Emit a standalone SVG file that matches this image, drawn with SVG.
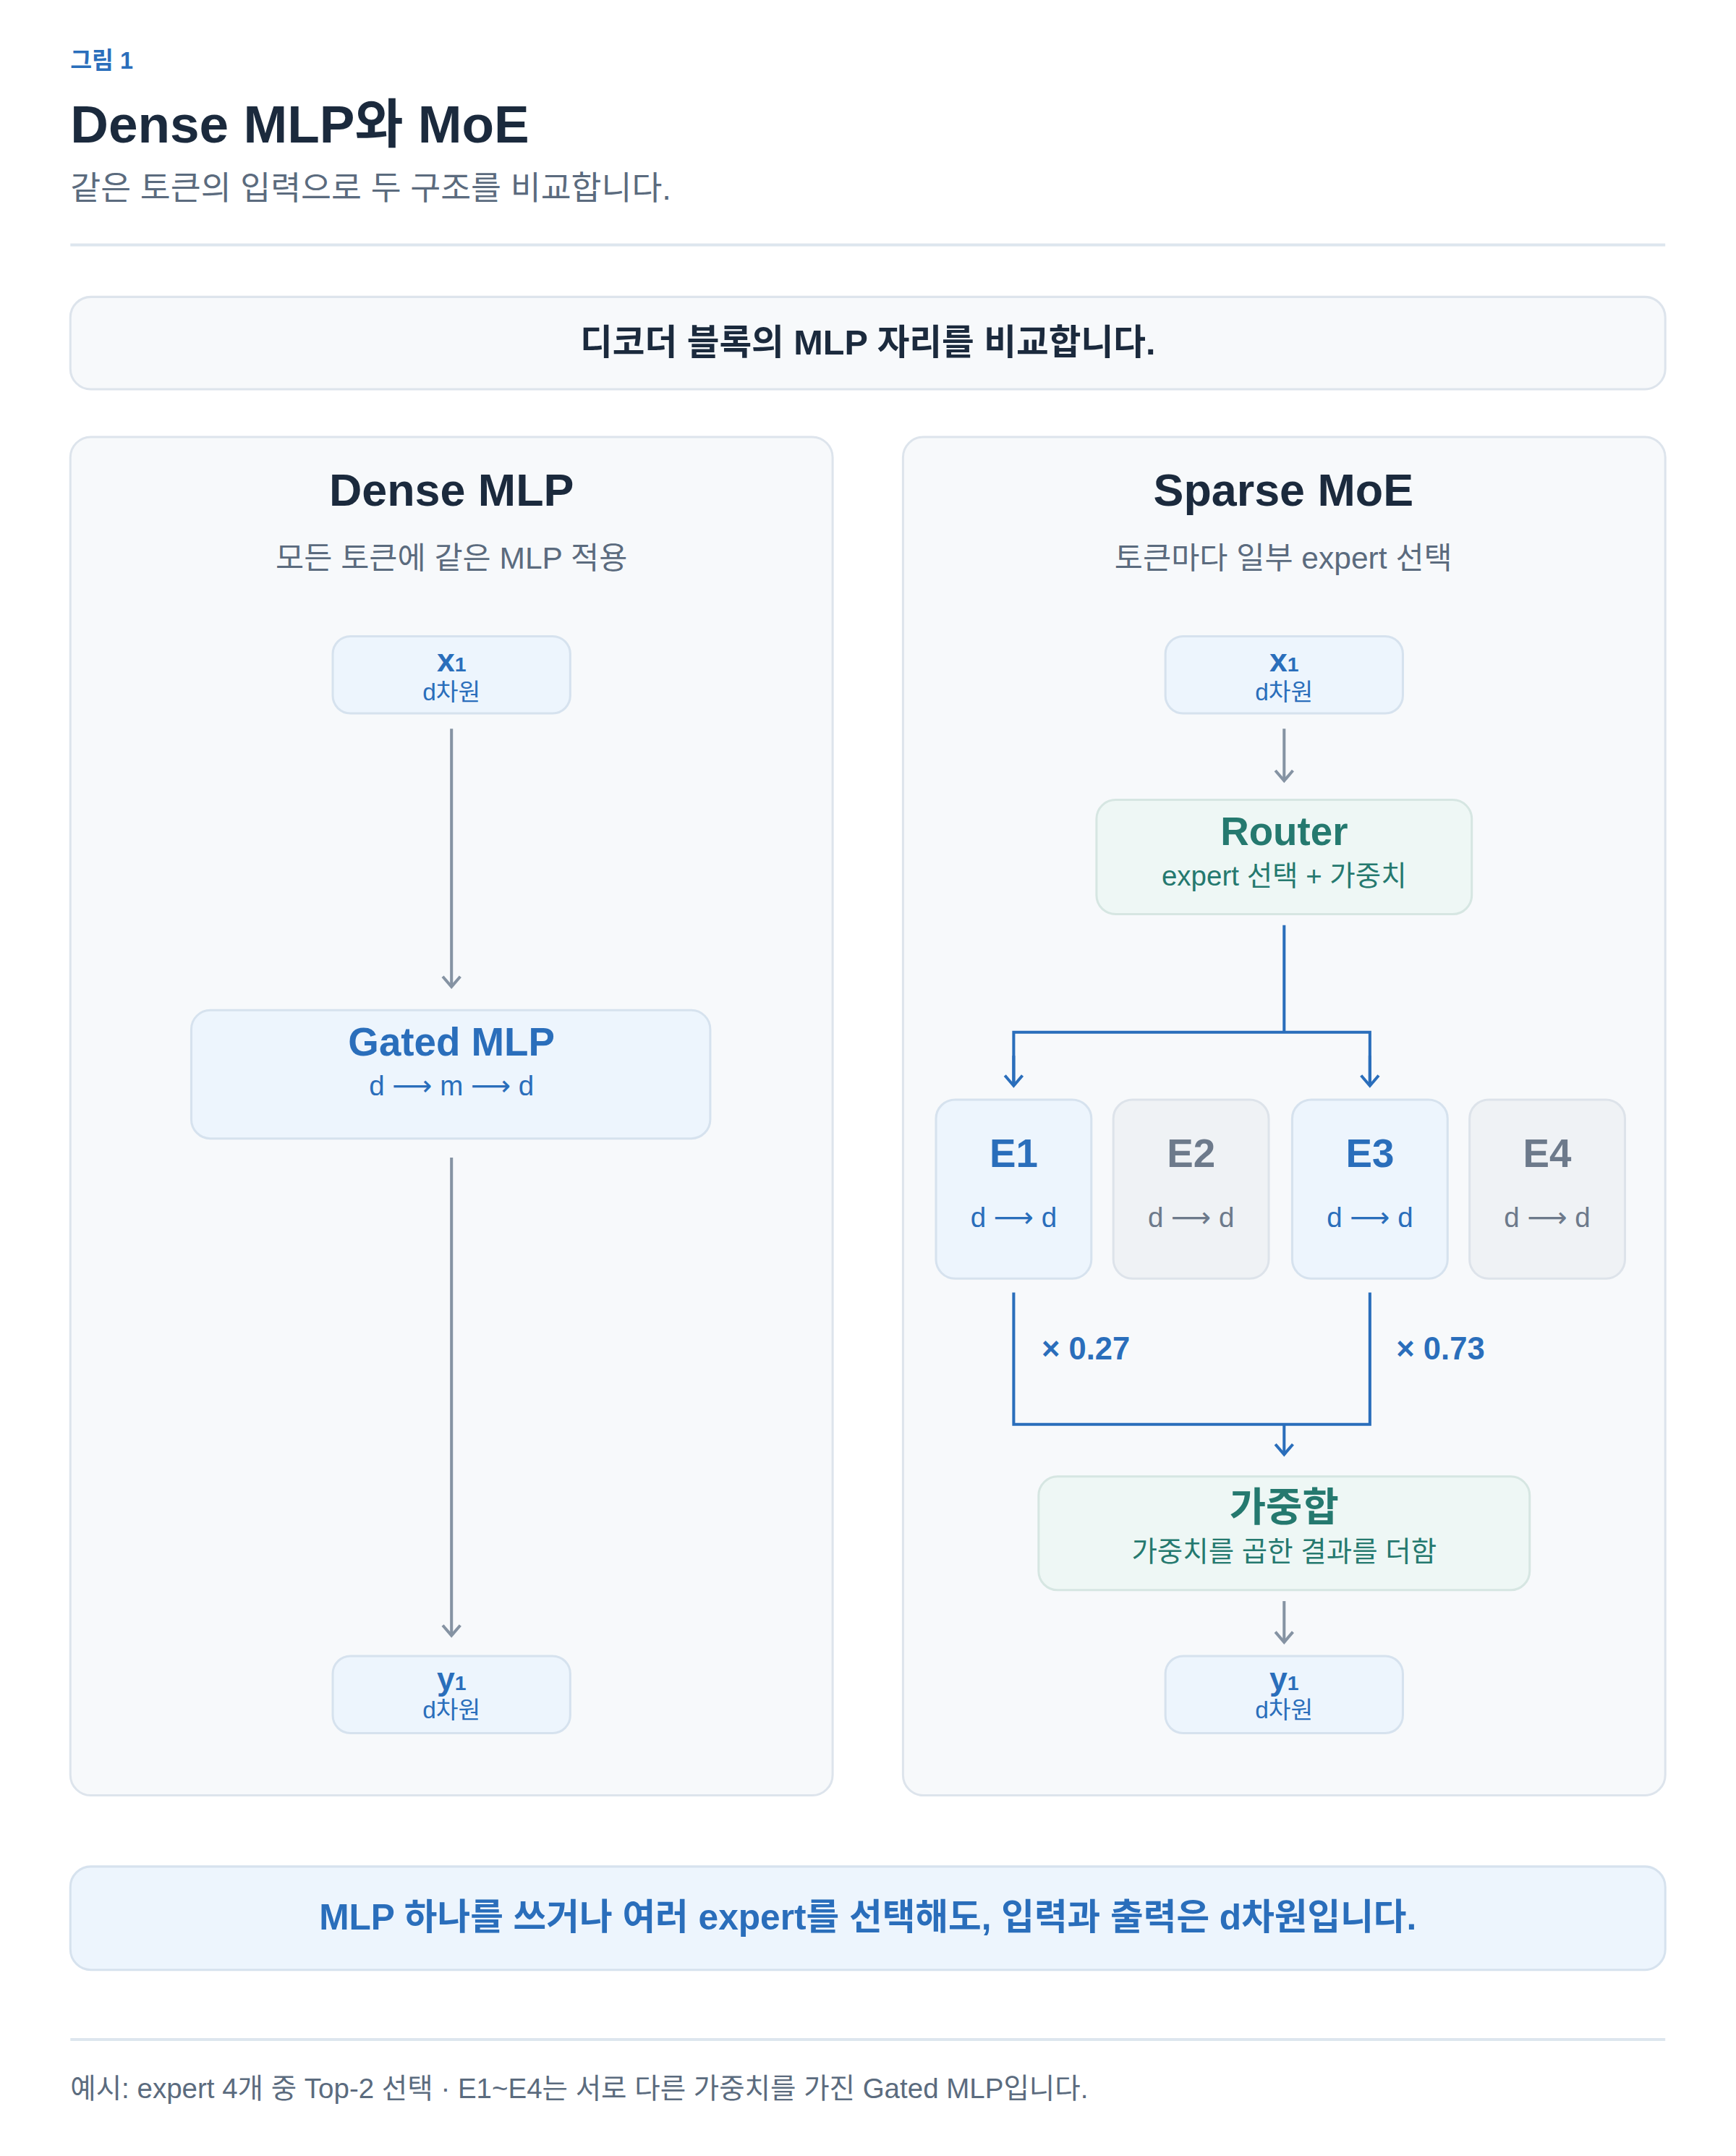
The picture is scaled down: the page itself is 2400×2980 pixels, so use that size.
<svg xmlns="http://www.w3.org/2000/svg" width="2400" height="2980" viewBox="0 0 2400 2980">
<defs>
<style>
text{font-family:"Liberation Sans","Noto Sans CJK KR",sans-serif;text-anchor:middle}
.b{font-weight:bold}
.ar{font-family:"DejaVu Sans",sans-serif;font-weight:normal}
.panel{fill:#f7f9fb;stroke:#dde4ec;stroke-width:3}
.bl{fill:#edf5fd;stroke:#d6e2ee;stroke-width:3}
.tl{fill:#eef7f5;stroke:#d6e6e2;stroke-width:3}
.gr{fill:#eff2f5;stroke:#dde3ea;stroke-width:3}
.cb{fill:#2a6ebb}.ct{fill:#25796f}.cd{fill:#1b2a3d}.cg{fill:#5b6b7e}.cx{fill:#6d7a8b}
.ag{stroke:#8593a3;stroke-width:4;fill:none}
.ab{stroke:#2a6ebb;stroke-width:4;fill:none}
</style>
<marker id="mg" markerWidth="30" markerHeight="30" refX="26" refY="15" orient="auto" markerUnits="userSpaceOnUse" viewBox="0 0 30 30"><path d="M12 3 L26 15 L12 27" fill="none" stroke="#8593a3" stroke-width="4"/></marker>
<marker id="mb" markerWidth="30" markerHeight="30" refX="26" refY="15" orient="auto" markerUnits="userSpaceOnUse" viewBox="0 0 30 30"><path d="M12 3 L26 15 L12 27" fill="none" stroke="#2a6ebb" stroke-width="4"/></marker>
</defs>
<rect width="2400" height="2980" fill="#ffffff"/>
<g transform="scale(1.0133)">
<g id="header">
<text x="96" y="94" class="b cb" font-size="32" style="text-anchor:start">그림 1</text>
<text x="96" y="194" class="b cd" font-size="72" style="text-anchor:start">Dense MLP와 MoE</text>
<text x="96" y="272" class="cg" font-size="45" style="text-anchor:start">같은 토큰의 입력으로 두 구조를 비교합니다.</text>
<line x1="96" y1="334" x2="2272" y2="334" stroke="#dde6ee" stroke-width="4"/>
</g>
<g id="banner"><rect x="96" y="405" width="2176" height="126" rx="28" class="panel"/><text x="1184" y="484" class="b cd" font-size="48">디코더 블록의 MLP 자리를 비교합니다.</text></g>
<g id="panel-dense"><rect x="96" y="596" width="1040" height="1853" rx="28" class="panel"/>
<text x="616" y="690" class="b cd" font-size="62">Dense MLP</text>
<text x="616" y="776" class="cg" font-size="42">모든 토큰에 같은 MLP 적용</text></g>
<g id="panel-moe"><rect x="1232" y="596" width="1040" height="1853" rx="28" class="panel"/>
<text x="1751" y="690" class="b cd" font-size="62">Sparse MoE</text>
<text x="1751" y="776" class="cg" font-size="42">토큰마다 일부 expert 선택</text></g>
<g id="x1-dense"><rect x="454" y="868" width="324" height="105" rx="24" class="bl"/><text x="616" y="916" class="b cb" font-size="44">x<tspan font-size="28">1</tspan></text><text x="616" y="955" class="cb" font-size="33">d차원</text></g>
<g id="gated-mlp"><rect x="261" y="1378" width="708" height="175" rx="26" class="bl"/><text x="616" y="1440" class="b cb" font-size="54">Gated MLP</text><text x="616" y="1494" class="cb" font-size="38">d <tspan class="ar">⟶</tspan> m <tspan class="ar">⟶</tspan> d</text></g>
<g id="y1-dense"><rect x="454" y="2259" width="324" height="105" rx="24" class="bl"/><text x="616" y="2305" class="b cb" font-size="44">y<tspan font-size="28">1</tspan></text><text x="616" y="2344" class="cb" font-size="33">d차원</text></g>
<g id="x1-moe"><rect x="1590" y="868" width="324" height="105" rx="24" class="bl"/><text x="1752" y="916" class="b cb" font-size="44">x<tspan font-size="28">1</tspan></text><text x="1752" y="955" class="cb" font-size="33">d차원</text></g>
<g id="router"><rect x="1496" y="1091" width="512" height="156" rx="26" class="tl"/><text x="1752" y="1153" class="b ct" font-size="54">Router</text><text x="1752" y="1208" class="ct" font-size="38">expert 선택 + 가중치</text></g>
<g id="e1"><rect x="1277" y="1500" width="212" height="244" rx="26" class="bl"/><text x="1383" y="1592" class="b cb" font-size="54">E1</text><text x="1383" y="1674" class="cb" font-size="38">d <tspan class="ar">⟶</tspan> d</text></g>
<g id="e2"><rect x="1519" y="1500" width="212" height="244" rx="26" class="gr"/><text x="1625" y="1592" class="b cx" font-size="54">E2</text><text x="1625" y="1674" class="cx" font-size="38">d <tspan class="ar">⟶</tspan> d</text></g>
<g id="e3"><rect x="1763" y="1500" width="212" height="244" rx="26" class="bl"/><text x="1869" y="1592" class="b cb" font-size="54">E3</text><text x="1869" y="1674" class="cb" font-size="38">d <tspan class="ar">⟶</tspan> d</text></g>
<g id="e4"><rect x="2005" y="1500" width="212" height="244" rx="26" class="gr"/><text x="2111" y="1592" class="b cx" font-size="54">E4</text><text x="2111" y="1674" class="cx" font-size="38">d <tspan class="ar">⟶</tspan> d</text></g>
<g id="weighted-sum"><rect x="1417" y="2014" width="670" height="155" rx="26" class="tl"/><text x="1752" y="2074" class="b ct" font-size="54">가중합</text><text x="1752" y="2130" class="ct" font-size="38">가중치를 곱한 결과를 더함</text></g>
<g id="y1-moe"><rect x="1590" y="2259" width="324" height="105" rx="24" class="bl"/><text x="1752" y="2305" class="b cb" font-size="44">y<tspan font-size="28">1</tspan></text><text x="1752" y="2344" class="cb" font-size="33">d차원</text></g>
<g id="connectors">
<line x1="616" y1="994" x2="616" y2="1346" class="ag" marker-end="url(#mg)"/>
<line x1="616" y1="1579" x2="616" y2="2231" class="ag" marker-end="url(#mg)"/>
<line x1="1752" y1="994" x2="1752" y2="1065" class="ag" marker-end="url(#mg)"/>
<path d="M1752 1262 V1408 M1383 1481 V1408 H1869 V1481" class="ab"/>
<line x1="1383" y1="1440" x2="1383" y2="1481" class="ab" marker-end="url(#mb)"/>
<line x1="1869" y1="1440" x2="1869" y2="1481" class="ab" marker-end="url(#mb)"/>
<path d="M1383 1763 V1943 H1869 V1763" class="ab"/>
<line x1="1752" y1="1943" x2="1752" y2="1984" class="ab" marker-end="url(#mb)"/>
<line x1="1752" y1="2184" x2="1752" y2="2240" class="ag" marker-end="url(#mg)"/>
<text x="1421" y="1854" class="b cb" font-size="43" style="text-anchor:start">× 0.27</text>
<text x="1905" y="1854" class="b cb" font-size="43" style="text-anchor:start">× 0.73</text>
</g>
<g id="summary"><rect x="96" y="2546" width="2176" height="141" rx="28" fill="#edf5fd" stroke="#d6e2ee" stroke-width="3"/><text x="1184" y="2632" class="b cb" font-size="49">MLP 하나를 쓰거나 여러 expert를 선택해도, 입력과 출력은 d차원입니다.</text></g>
<g id="footer"><line x1="96" y1="2782" x2="2272" y2="2782" stroke="#dde6ee" stroke-width="4"/>
<text x="96" y="2862" class="cg" font-size="38" style="text-anchor:start">예시: expert 4개 중 Top-2 선택 · E1~E4는 서로 다른 가중치를 가진 Gated MLP입니다.</text></g>
</g>
</svg>
